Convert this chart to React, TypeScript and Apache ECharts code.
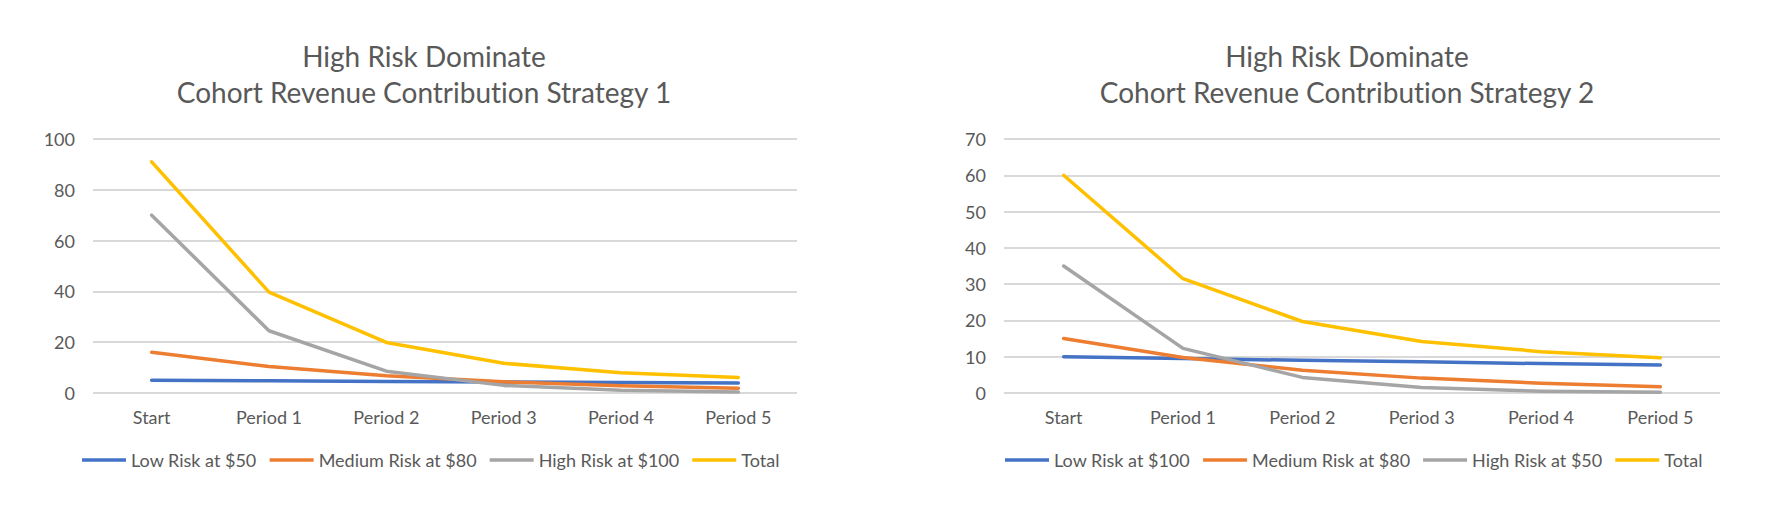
import React, { useEffect, useRef } from "react";
import * as echarts from "echarts";

const categories = ["Start", "Period 1", "Period 2", "Period 3", "Period 4", "Period 5"];

const titles1 = ["High Risk Dominate", "Cohort Revenue Contribution Strategy 1"];
const titles2 = ["High Risk Dominate", "Cohort Revenue Contribution Strategy 2"];

const names1 = ["Low Risk at $50", "Medium Risk at $80", "High Risk at $100", "Total"];
const names2 = ["Low Risk at $100", "Medium Risk at $80", "High Risk at $50", "Total"];

const s1Low = [5, 4.8, 4.5, 4.3, 4.1, 3.9];
const s1Medium = [16, 10.4, 6.8, 4.4, 2.9, 1.9];
const s1High = [70, 24.5, 8.6, 3.0, 1.1, 0.4];
const s1Total = [91, 39.7, 19.9, 11.7, 8.0, 6.1];

const s2Low = [10, 9.5, 9.0, 8.6, 8.1, 7.7];
const s2Medium = [15, 9.8, 6.3, 4.1, 2.7, 1.7];
const s2High = [35, 12.3, 4.3, 1.5, 0.5, 0.2];
const s2Total = [60, 31.5, 19.7, 14.2, 11.4, 9.7];

const yMax1 = 100;
const yStep1 = 20;
const yMax2 = 70;
const yStep2 = 10;

const colors = ["#4472C4", "#ED7D31", "#A5A5A5", "#FFC000"];
const FONT = "Lato, 'Open Sans', sans-serif";
const TEXT = "#595959";
const GRID = "#D9D9D9";

export default function App() {
  const ref = useRef<HTMLDivElement>(null);
  useEffect(() => {
    if (!ref.current) return;
    const chart = echarts.init(ref.current, undefined, { renderer: "svg" });
    const data1 = [s1Low, s1Medium, s1High, s1Total];
    const data2 = [s2Low, s2Medium, s2High, s2Total];

    const mkX = (gridIndex: number) => ({
      type: "category" as const,
      gridIndex,
      data: categories,
      boundaryGap: true,
      axisLine: { show: false },
      axisTick: { show: false },
      axisLabel: { color: TEXT, fontSize: 18, fontFamily: FONT, margin: 15 },
    });
    const mkY = (gridIndex: number, max: number, step: number) => ({
      type: "value" as const,
      gridIndex,
      min: 0,
      max,
      interval: step,
      axisLine: { show: false },
      axisTick: { show: false },
      axisLabel: { color: TEXT, fontSize: 18, fontFamily: FONT, margin: 18 },
      splitLine: { lineStyle: { color: GRID, width: 1.8 } },
    });
    const mkSeries = (names: string[], data: number[][], idx: number) =>
      names.map((n, i) => ({
        type: "line" as const,
        name: n,
        xAxisIndex: idx,
        yAxisIndex: idx,
        data: data[i],
        showSymbol: false,
        symbol: "none",
        color: colors[i],
        lineStyle: { color: colors[i], width: 3.5, cap: "round", join: "round" },
        z: 2 + i,
      }));
    const mkLegend = (names: string[], left: number) => ({
      data: names,
      left,
      top: 451,
      padding: 0,
      icon: "rect",
      itemWidth: 44,
      itemHeight: 3.5,
      itemGap: 13,
      textStyle: { color: TEXT, fontSize: 18, fontFamily: FONT },
    });
    const mkTitle = (lines: string[], left: number) => ({
      text: lines.join("\n"),
      left,
      top: 38,
      padding: 0,
      textAlign: "center",
      textStyle: {
        color: TEXT,
        fontSize: 28,
        fontWeight: "normal",
        fontFamily: FONT,
        lineHeight: 36,
      },
    });

    chart.setOption({
      animation: false,
      backgroundColor: "#ffffff",
      title: [mkTitle(titles1, 424), mkTitle(titles2, 1347)],
      legend: [mkLegend(names1, 82), mkLegend(names2, 1005)],
      grid: [
        { left: 93, right: 1776 - 797, top: 139, bottom: 506 - 393, containLabel: false },
        { left: 1004, right: 1776 - 1720, top: 139, bottom: 506 - 393, containLabel: false },
      ],
      xAxis: [mkX(0), mkX(1)],
      yAxis: [mkY(0, yMax1, yStep1), mkY(1, yMax2, yStep2)],
      series: [...mkSeries(names1, data1, 0), ...mkSeries(names2, data2, 1)],
    });
    return () => chart.dispose();
  }, []);
  return (
    <div
      ref={ref}
      style={{
        position: "fixed",
        left: 0,
        top: 0,
        width: 1776,
        height: 506,
        background: "#fff",
        fontVariantLigatures: "none",
      }}
    />
  );
}
